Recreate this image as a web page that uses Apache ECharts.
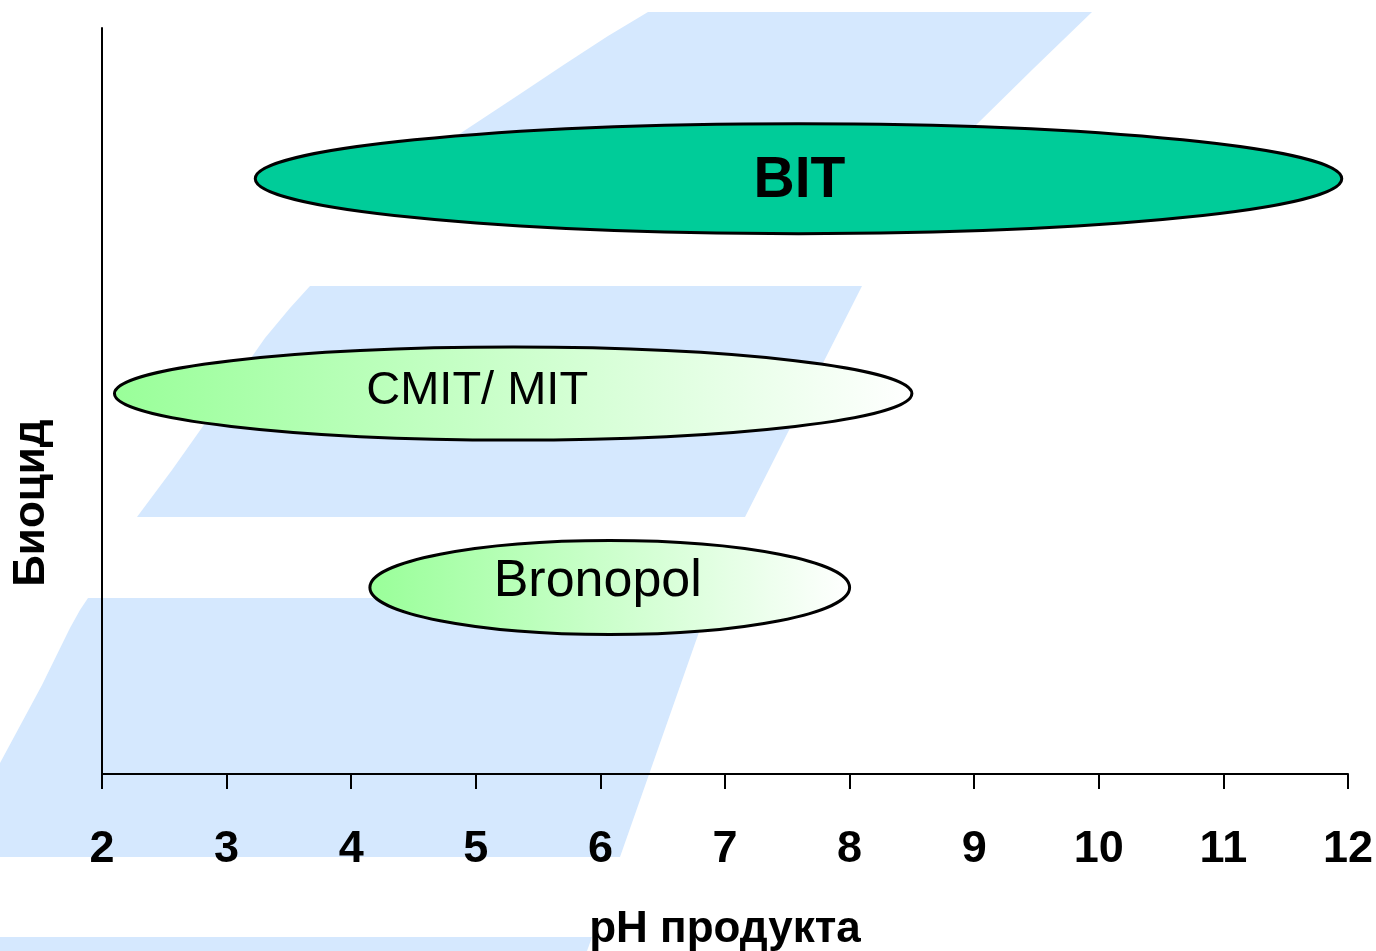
<!DOCTYPE html>
<html>
<head>
<meta charset="utf-8">
<script src="https://cdn.jsdelivr.net/npm/echarts@6/dist/echarts.min.js"></script>
<style>
  html, body { margin: 0; padding: 0; background: #ffffff; }
  #chart { width: 1376px; height: 951px; }
</style>
</head>
<body>
<div id="chart"></div>
<script>
// Biocides and the pH range over which each one works
const biocides = ['Bronopol', 'CMIT/ MIT', 'BIT'];
const phFrom = [4.15, 2.1, 3.23];
const phTo = [8.0, 8.5, 11.95];
// vertical row of each biocide on the (unlabelled) y scale 0..10
const rowLevel = [2.5, 5.1, 7.98];
const xTicks = [2, 3, 4, 5, 6, 7, 8, 9, 10, 11, 12];

// drawing style per row
const ellipseHeight = [94, 93, 110];
const labelShift = [[-12, -6], [-36, -2], [1, 3]];
const labelFont = ['normal 52px "Liberation Sans", Arial, sans-serif',
                   'normal 47px "Liberation Sans", Arial, sans-serif',
                   'bold 57px "Liberation Sans", Arial, sans-serif'];
const fadeFill = {
  type: 'linear', x: 0, y: 0, x2: 1, y2: 0,
  colorStops: [{ offset: 0, color: '#99ff99' }, { offset: 1, color: '#ffffff' }]
};
const ellipseFill = [fadeFill, fadeFill, '#00cc99'];

// pale blue ribbons in the slide background
const bandColor = '#d5e8fe';
const bands = [
  [[648, 12], [1092, 12], [1034, 68], [976, 125], [900, 200], [354, 200], [420, 160], [473, 125], [520, 94], [565, 64], [608, 36]],
  [[310, 286], [862, 286], [745, 517], [137, 517], [172, 470], [230, 388], [265, 338], [290, 308]],
  [[88, 598], [711, 598], [620, 857], [0, 857], [0, 763], [42, 685], [70, 628], [80, 610]],
  [[0, 937], [592, 937], [587, 951], [0, 951]]
];

const font = '"Liberation Sans", Arial, sans-serif';
const chart = echarts.init(document.getElementById('chart'), null, { renderer: 'canvas' });

const seriesData = biocides.map((name, i) => ({
  name: name,
  value: [phFrom[i], phTo[i], rowLevel[i], i]
}));

chart.setOption({
  animation: false,
  backgroundColor: '#ffffff',
  graphic: bands.map(pts => ({
    type: 'polygon',
    z: -10,
    silent: true,
    shape: { points: pts },
    style: { fill: bandColor }
  })).concat([{
    type: 'text',
    z: 10,
    x: 32,
    y: 503,
    rotation: Math.PI / 2,
    style: {
      text: 'Биоцид',
      font: 'bold 44px ' + font,
      fill: '#000000',
      align: 'center',
      verticalAlign: 'middle'
    }
  }]),
  grid: { left: 102, right: 28, top: 28, bottom: 177, outerBoundsMode: 'none', containLabel: false },
  xAxis: {
    type: 'value',
    min: 2,
    max: 12,
    interval: 1,
    name: 'pH продукта',
    nameLocation: 'middle',
    nameGap: 134,
    nameTextStyle: { fontFamily: font, fontWeight: 'bold', fontSize: 44, color: '#000000' },
    axisLine: { show: true, lineStyle: { color: '#000000', width: 2 } },
    axisTick: { show: true, inside: false, length: 15, lineStyle: { color: '#000000', width: 2 } },
    axisLabel: {
      margin: 53,
      fontFamily: font, fontWeight: 'bold', fontSize: 45, color: '#000000',
      formatter: v => xTicks.includes(v) ? String(v) : ''
    },
    splitLine: { show: false }
  },
  yAxis: {
    type: 'value',
    min: 0,
    max: 10,
    axisLine: { show: true, onZero: false, lineStyle: { color: '#000000', width: 2 } },
    axisTick: { show: false },
    axisLabel: { show: false },
    splitLine: { show: false }
  },
  series: [{
    type: 'custom',
    clip: false,
    z: 5,
    data: seriesData,
    renderItem: function (params, api) {
      const i = api.value(3);
      const p0 = api.coord([api.value(0), api.value(2)]);
      const p1 = api.coord([api.value(1), api.value(2)]);
      const cx = (p0[0] + p1[0]) / 2;
      const cy = p0[1];
      const rx = (p1[0] - p0[0]) / 2;
      const ry = ellipseHeight[i] / 2;
      return {
        type: 'group',
        children: [{
          type: 'ellipse',
          shape: { cx: cx, cy: cy, rx: rx, ry: ry },
          style: { fill: ellipseFill[i], stroke: '#000000', lineWidth: 3 }
        }, {
          type: 'text',
          x: cx + labelShift[i][0],
          y: cy + labelShift[i][1],
          style: {
            text: biocides[i],
            font: labelFont[i],
            fill: '#000000',
            align: 'center',
            verticalAlign: 'middle'
          }
        }]
      };
    }
  }]
});
</script>
</body>
</html>
